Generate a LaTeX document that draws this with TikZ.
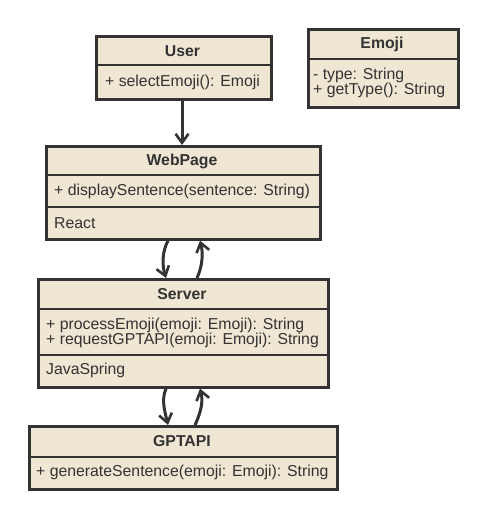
\documentclass[tikz,border=0pt]{standalone}
\usepackage{fontspec}
\setmainfont{Liberation Sans}
\usetikzlibrary{arrows.meta}
\definecolor{boxfill}{HTML}{EFE6D4}
\definecolor{ink}{HTML}{333333}
\begin{document}
\begin{tikzpicture}[x=1pt,y=-1pt,
  cls/.style={draw=ink, fill=boxfill, line width=2.6pt, rectangle, inner sep=0pt, anchor=north west},
  divider/.style={draw=ink, line width=2.6pt},
  ttl/.style={font=\fontsize{15.8}{17}\selectfont\bfseries, text=ink, inner sep=0pt},
  mem/.style={font=\fontsize{15.8}{16}\selectfont, text=ink, anchor=west, inner sep=0pt},
  conn/.style={draw=ink, line width=3pt, -{Straight Barb[length=9pt,width=13pt,line width=2.6pt]}}]
\useasboundingbox (0,0) rectangle (484,516);

% User
\node[cls, minimum width=175pt, minimum height=63pt] (user) at (95,35) {};
\draw[divider] (user.west |- 0,65) -- (user.east |- 0,65);
\node[ttl] (userT) at (182.5,51) {User};
\node[mem] (userM) at (105,82) {+ selectEmoji(): Emoji};

% Emoji
\node[cls, minimum width=150pt, minimum height=78pt] (emoji) at (307,28) {};
\draw[divider] (emoji.west |- 0,59) -- (emoji.east |- 0,59);
\node[ttl] (emojiT) at (382,44) {Emoji};
\node[mem] (emojiA) at (313,75) {- type: String};
\node[mem] (emojiM) at (313,90) {+ getType(): String};

% WebPage
\node[cls, minimum width=274pt, minimum height=93pt] (web) at (45,145) {};
\draw[divider] (web.west |- 0,175) -- (web.east |- 0,175);
\draw[divider] (web.west |- 0,207) -- (web.east |- 0,207);
\node[ttl] (webT) at (182,161) {WebPage};
\node[mem] (webM) at (54,191) {+ displaySentence(sentence: String)};
\node[mem] (webR) at (54,223) {React};

% Server
\node[cls, minimum width=290pt, minimum height=108pt] (srv) at (37,278) {};
\draw[divider] (srv.west |- 0,309) -- (srv.east |- 0,309);
\draw[divider] (srv.west |- 0,355) -- (srv.east |- 0,355);
\node[ttl] (srvT) at (182,294) {Server};
\node[mem] (srvM1) at (46,325) {+ processEmoji(emoji: Emoji): String};
\node[mem] (srvM2) at (46,340) {+ requestGPTAPI(emoji: Emoji): String};
\node[mem] (srvR) at (46,370) {JavaSpring};

% GPTAPI
\node[cls, minimum width=308pt, minimum height=63pt] (gpt) at (28,425) {};
\draw[divider] (gpt.west |- 0,457) -- (gpt.east |- 0,457);
\node[ttl] (gptT) at (182,441) {GPTAPI};
\node[mem] (gptM) at (36,472) {+ generateSentence(emoji: Emoji): String};

% connectors
\draw[conn] (182,0 |- user.south) -- (182,0 |- web.north);
\draw[conn] (168,0 |- web.south) .. controls (162,252) and (162,265) .. (166,0 |- srv.north);
\draw[conn] (197,0 |- srv.north) .. controls (203,265) and (203,252) .. (200,0 |- web.south);
\draw[conn] (166,0 |- srv.south) .. controls (161,400) and (165,412) .. (168,0 |- gpt.north);
\draw[conn] (195,0 |- gpt.north) .. controls (202,410) and (203,400) .. (200,0 |- srv.south);
\end{tikzpicture}
\end{document}
